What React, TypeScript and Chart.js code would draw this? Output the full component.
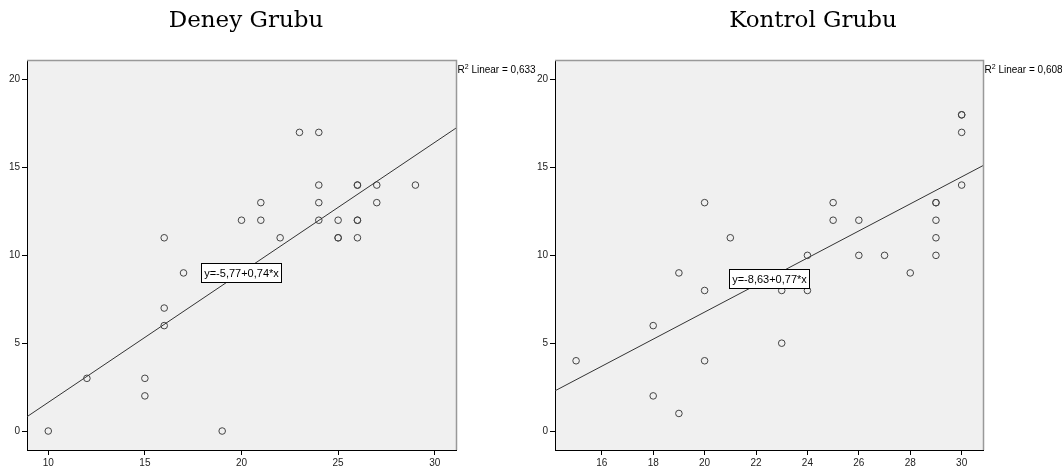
import React, { useEffect, useRef } from 'react';
import { Chart, registerables } from 'chart.js';

Chart.register(...registerables);

// ---- data ----
const deneyTitle = 'Deney Grubu';
const deneyX = [10, 12, 15, 15, 16, 16, 16, 17, 19, 20, 21, 21, 22, 23, 24, 24, 24, 24, 25, 25, 25, 26, 26, 26, 26, 26, 27, 27, 29];
const deneyY = [0, 3, 3, 2, 11, 7, 6, 9, 0, 12, 13, 12, 11, 17, 17, 14, 13, 12, 12, 11, 11, 14, 14, 12, 12, 11, 14, 13, 14];
const deneyCoef = [-5.77, 0.74];
const deneyR2 = '0,633';
const deneyXTicks = [10, 15, 20, 25, 30];

const kontrolTitle = 'Kontrol Grubu';
const kontrolX = [15, 18, 18, 19, 19, 20, 20, 20, 21, 23, 23, 24, 24, 25, 25, 26, 26, 27, 28, 29, 29, 29, 29, 29, 30, 30, 30, 30];
const kontrolY = [4, 6, 2, 9, 1, 13, 8, 4, 11, 8, 5, 10, 8, 13, 12, 12, 10, 10, 9, 13, 13, 12, 11, 10, 18, 18, 17, 14];
const kontrolCoef = [-8.63, 0.77];
const kontrolR2 = '0,608';
const kontrolXTicks = [16, 18, 20, 22, 24, 26, 28, 30];

const yTicks = [0, 5, 10, 15, 20];

// ---- layout ----
const H = 472;
const FONT = '"Liberation Sans", Arial, sans-serif';

type Panel = {
  xs: number[];
  ys: number[];
  coef: number[];
  r2: string;
  xTicks: number[];
  xMin: number;
  xMax: number;
  yMin: number;
  yMax: number;
  eqX: number;
  yAxisWidth: number;
  padRight: number;
  width: number;
};

const fmt = (n: number) => n.toFixed(2).replace('.', ',');

function makeConfig(p: Panel): any {
  const [a, b] = p.coef;
  const points = p.xs.map((x, i) => ({ x, y: p.ys[i] }));
  const fitLine = [
    { x: p.xMin, y: a + b * p.xMin },
    { x: p.xMax, y: a + b * p.xMax },
  ];
  const axisCommon = {
    type: 'linear',
    grid: {
      display: true,
      drawOnChartArea: false,
      drawTicks: true,
      tickLength: 5,
      color: '#000',
      lineWidth: 1,
    },
    border: { display: true, color: '#000', width: 1 },
    ticks: {
      font: { family: FONT, size: 10 },
      color: '#222',
      maxRotation: 0,
      autoSkip: false,
    },
  };
  const plugin = {
    id: 'spssLook',
    beforeDraw(chart: any) {
      const { ctx, chartArea: ca } = chart;
      ctx.save();
      ctx.fillStyle = '#f0f0f0';
      ctx.fillRect(ca.left, ca.top, ca.right - ca.left, ca.bottom - ca.top);
      ctx.restore();
    },
    afterDatasetsDraw(chart: any) {
      const { ctx } = chart;
      const xs = chart.scales.x;
      const ys = chart.scales.y;
      const cx = xs.getPixelForValue(p.eqX);
      const cy = ys.getPixelForValue(a + b * p.eqX);
      const text = `y=${fmt(a)}+${fmt(b)}*x`;
      ctx.save();
      ctx.font = `11px ${FONT}`;
      const tw = ctx.measureText(text).width;
      const bw = Math.round(tw + 5);
      const bh = 19;
      const bx = Math.round(cx - bw / 2) + 0.5;
      const by = Math.round(cy - bh / 2) + 0.5;
      ctx.fillStyle = '#fff';
      ctx.fillRect(bx, by, bw, bh);
      ctx.strokeStyle = '#000';
      ctx.lineWidth = 1;
      ctx.strokeRect(bx, by, bw, bh);
      ctx.fillStyle = '#000';
      ctx.textAlign = 'center';
      ctx.textBaseline = 'middle';
      ctx.fillText(text, bx + bw / 2, by + bh / 2 + 0.5);
      ctx.restore();
    },
    afterDraw(chart: any) {
      const { ctx, chartArea: ca } = chart;
      ctx.save();
      ctx.strokeStyle = '#999';
      ctx.lineWidth = 1.5;
      ctx.beginPath();
      ctx.moveTo(ca.left, ca.top + 0.5);
      ctx.lineTo(ca.right + 0.5, ca.top + 0.5);
      ctx.lineTo(ca.right + 0.5, ca.bottom);
      ctx.stroke();
      // R² label
      let x = ca.right + 1.5;
      const base = 72.5;
      ctx.fillStyle = '#000';
      ctx.textBaseline = 'alphabetic';
      ctx.textAlign = 'left';
      ctx.font = `10px ${FONT}`;
      ctx.fillText('R', x, base);
      x += ctx.measureText('R').width;
      ctx.font = `7px ${FONT}`;
      ctx.fillText('2', x, base - 4);
      x += ctx.measureText('2').width;
      ctx.font = `10px ${FONT}`;
      ctx.fillText(` Linear = ${p.r2}`, x, base);
      ctx.restore();
    },
  };
  return {
    type: 'scatter',
    data: {
      datasets: [
        {
          type: 'line',
          data: fitLine,
          borderColor: '#333',
          borderWidth: 1,
          pointRadius: 0,
          fill: false,
          order: 0,
        },
        {
          type: 'scatter',
          data: points,
          pointStyle: 'circle',
          pointRadius: 3.3,
          borderWidth: 1,
          borderColor: '#444',
          backgroundColor: 'rgba(0,0,0,0)',
          order: 1,
        },
      ],
    },
    options: {
      responsive: false,
      animation: false,
      devicePixelRatio: 1,
      layout: { padding: { left: 0, right: p.padRight, top: 60, bottom: 0 } },
      plugins: { legend: { display: false }, tooltip: { enabled: false } },
      scales: {
        x: {
          ...axisCommon,
          position: 'bottom',
          min: p.xMin,
          max: p.xMax,
          ticks: { ...axisCommon.ticks, padding: 2 },
          afterBuildTicks: (s: any) => {
            s.ticks = p.xTicks.map((v) => ({ value: v }));
          },
          afterFit: (s: any) => {
            s.height = 22;
          },
        },
        y: {
          ...axisCommon,
          position: 'left',
          min: p.yMin,
          max: p.yMax,
          ticks: { ...axisCommon.ticks, padding: 2 },
          afterBuildTicks: (s: any) => {
            s.ticks = yTicks.map((v) => ({ value: v }));
          },
          afterFit: (s: any) => {
            s.width = p.yAxisWidth;
          },
        },
      },
    },
    plugins: [plugin],
  };
}

const deneyPanel: Panel = {
  xs: deneyX,
  ys: deneyY,
  coef: deneyCoef,
  r2: deneyR2,
  xTicks: deneyXTicks,
  xMin: 8.9,
  xMax: 31.1,
  yMin: -1.08,
  yMax: 21.12,
  eqX: 20,
  yAxisWidth: 27,
  padRight: 104,
  width: 560,
};

const kontrolPanel: Panel = {
  xs: kontrolX,
  ys: kontrolY,
  coef: kontrolCoef,
  r2: kontrolR2,
  xTicks: kontrolXTicks,
  xMin: 14.18,
  xMax: 30.83,
  yMin: -1.08,
  yMax: 21.12,
  eqX: 22.5,
  yAxisWidth: 24,
  padRight: 79,
  width: 531,
};

function ScatterPanel({ panel, left }: { panel: Panel; left: number }) {
  const ref = useRef<HTMLCanvasElement | null>(null);
  useEffect(() => {
    if (!ref.current) return;
    const chart = new Chart(ref.current, makeConfig(panel));
    return () => chart.destroy();
  }, [panel]);
  return (
    <canvas
      ref={ref}
      width={panel.width}
      height={H}
      style={{ position: 'absolute', left, top: 0, width: panel.width, height: H }}
    />
  );
}

function Title({ text, center }: { text: string; center: number }) {
  return (
    <div
      style={{
        position: 'absolute',
        left: center - 200,
        width: 400,
        top: 8,
        textAlign: 'center',
        fontFamily: '"DejaVu Serif", serif',
        fontSize: 23,
        lineHeight: '23px',
        color: '#000',
        whiteSpace: 'nowrap',
      }}
    >
      {text}
    </div>
  );
}

export default function App() {
  return (
    <div
      style={{
        position: 'absolute',
        left: 0,
        top: 0,
        width: 1062,
        height: 472,
        background: '#fff',
        overflow: 'hidden',
      }}
    >
      <ScatterPanel panel={kontrolPanel} left={531} />
      <ScatterPanel panel={deneyPanel} left={0} />
      <Title text={deneyTitle} center={246} />
      <Title text={kontrolTitle} center={813} />
    </div>
  );
}
